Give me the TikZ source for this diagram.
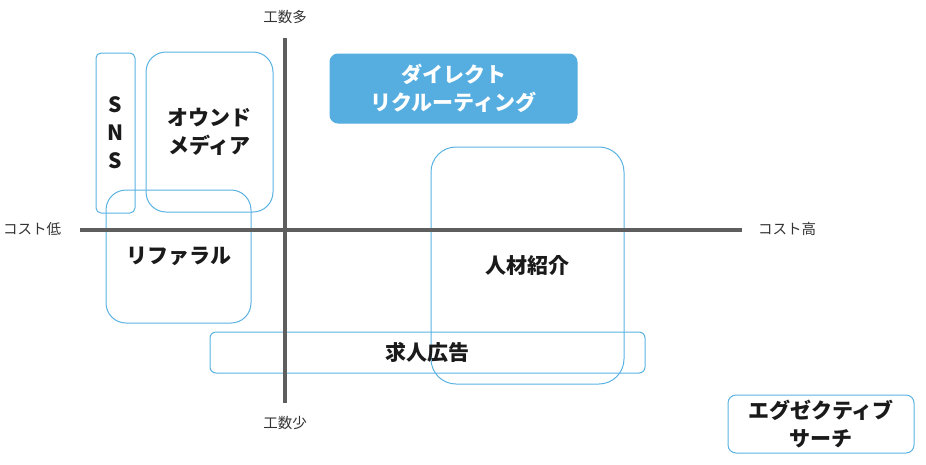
\documentclass[tikz,border=0pt]{standalone}
\usepackage{fontspec}
\setmainfont{Noto Sans CJK JP}
\usetikzlibrary{positioning}
\definecolor{skyblue}{HTML}{5AB2E2}
\definecolor{fillblue}{HTML}{56AEE0}
\definecolor{axisgray}{HTML}{5E5E5E}
\definecolor{dktext}{HTML}{1A1A1A}
\definecolor{axtext}{HTML}{333333}

\begin{document}
\begin{tikzpicture}[x=1pt, y=-1pt,
  zone/.style={draw=skyblue, line width=1pt, text=dktext, align=center,
    font=\fontsize{21}{28}\selectfont\bfseries, inner sep=0pt},
  axislabel/.style={text=axtext, font=\fontsize{14.5}{16}\selectfont, inner sep=0pt}]

% Canvas
\useasboundingbox (0,0) rectangle (926,464);

% --- Zones ---
\node[zone, rounded corners=5pt, minimum width=39pt, minimum height=160pt] (sns) at (115.5,133) {S\\N\\S};
\node[zone, rounded corners=20pt, minimum width=127pt, minimum height=160pt] (owned) at (209.5,132) {オウンド\\メディア};
\node[zone, rounded corners=20pt, minimum width=145pt, minimum height=133pt] (referral) at (178.5,256.5) {リファラル};
\node[zone, fill=fillblue, draw=fillblue, text=white, rounded corners=8pt, minimum width=247pt, minimum height=69pt] (direct) at (453.5,88.5) {ダイレクト\\リクルーティング};
\node[zone, rounded corners=25pt, minimum width=193pt, minimum height=237pt] (agent) at (527.5,265.5) {人材紹介};
\node[zone, rounded corners=6pt, minimum width=435pt, minimum height=41pt] (jobad) at (427.5,352.5) {求人広告};
\node[zone, rounded corners=8pt, minimum width=186pt, minimum height=58pt] (exec) at (821,424) {エグゼクティブ\\サーチ};

% --- Axes ---
\coordinate (xlo) at (80,230);
\coordinate (xhi) at (742,230);
\coordinate (ytop) at (285,38);
\coordinate (ybot) at (285,403);
\draw[axisgray, line width=4pt] (xlo) -- (xhi);
\draw[axisgray, line width=4pt] (ytop) -- (ybot);

% Axis labels
\node[axislabel] (manhi) at (285,17) {工数多};
\node[axislabel] (manlo) at (285,423) {工数少};
\node[axislabel] (costlo) at (32,229) {コスト低};
\node[axislabel] (costhi) at (787,229) {コスト高};

\end{tikzpicture}
\end{document}
